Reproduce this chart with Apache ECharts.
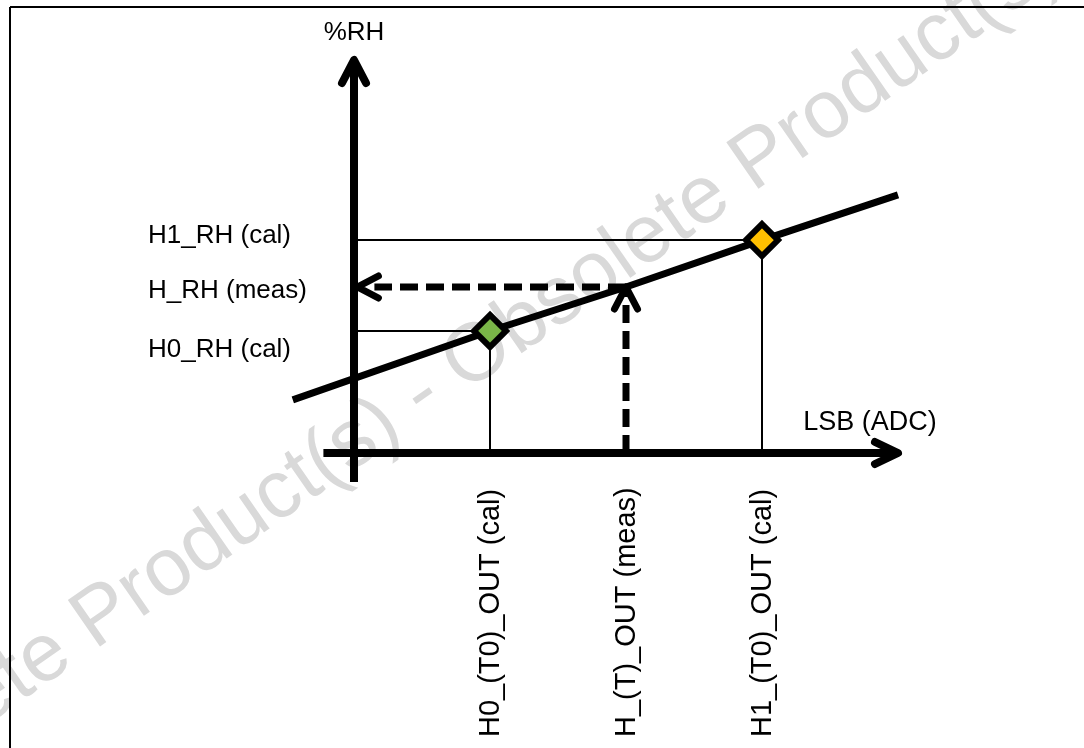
<!DOCTYPE html>
<html><head><meta charset="utf-8">
<script src="https://cdn.jsdelivr.net/npm/echarts@6/dist/echarts.min.js"></script>
<style>html,body{margin:0;padding:0;background:#fff}#c{width:1084px;height:748px}</style>
</head><body><div id="c"></div>
<script>
// ---- data (x in LSB units, y in %RH units) ----
const xTickValues = [4, 8, 12];
const xTickLabels = ['H0_(T0)_OUT (cal)', 'H_(T)_OUT (meas)', 'H1_(T0)_OUT (cal)'];
const yTickValues = [51.3, 40, 29.4];
const yTickLabels = ['H1_RH (cal)', 'H_RH (meas)', 'H0_RH (cal)'];
const calX = [4, 12];
const calY = [29.4, 51.3];
const lineX = [-1.8, 4, 8, 12, 16];
const lineY = [12.8, 29.4, 40, 51.3, 62.2];
const rhAxisX = [0, 0];
const rhAxisY = [-7, 94];
const lsbAxisX = [-0.9, 15.8];
const lsbAxisY = [0, 0];
const measX = 8;
const measY = 40;
const arrowTipX = [0, 16, 8, 0.1];
const arrowTipY = [94.7, 0, 40, 40];

// ---- styles / layout ----
const FONT = '"Liberation Sans", Arial, sans-serif';
const calColors = ['#7AB648', '#FFC000'];
const arrowDirs = [[0, -1], [1, 0], [0, -1], [-1, 0]];
const arrowGeom = [
  {depth: 23, spread: 12, w: 8},
  {depth: 23, spread: 11, w: 8},
  {depth: 22, spread: 11.5, w: 7},
  {depth: 21, spread: 11, w: 7}
];
const yLabelOffsets = [-4, 4, 19];

const zip = (a, b) => a.map((v, i) => [v, b[i]]);

const chart = echarts.init(document.getElementById('c'), null, {renderer: 'canvas'});

const lineSeries = (name, data, width, z, dash) => ({
  type: 'line', name, data, symbol: 'none', silent: true, z,
  animation: false,
  lineStyle: {color: '#000', width, type: dash || 'solid', cap: 'butt', join: 'miter'}
});

chart.setOption({
  animation: false,
  backgroundColor: '#fff',
  grid: {left: 14, top: 38, width: 1020, height: 498, containLabel: false},
  xAxis: {type: 'value', min: -10, max: 20, show: false},
  yAxis: {type: 'value', min: -20, max: 100, show: false},
  graphic: [
    {type: 'text', z: 0, x: 422, y: 395, rotation: 34.8 * Math.PI / 180,
     style: {text: 'Obsolete Product(s) - Obsolete Product(s)', font: '82px ' + FONT, fill: '#d9d9d9',
             align: 'center', verticalAlign: 'middle', textAlign: 'center', textVerticalAlign: 'middle'}},
    {type: 'line', z: 50, shape: {x1: 10, y1: 7, x2: 1084, y2: 7}, style: {stroke: '#000', lineWidth: 2}},
    {type: 'line', z: 50, shape: {x1: 10, y1: 7, x2: 10, y2: 748}, style: {stroke: '#000', lineWidth: 2}},
    {type: 'text', z: 50, x: 354, y: 33,
     style: {text: '%RH', font: '26px ' + FONT, fill: '#000', align: 'center', verticalAlign: 'middle', textAlign: 'center', textVerticalAlign: 'middle'}},
    {type: 'text', z: 50, x: 870, y: 423,
     style: {text: 'LSB (ADC)', font: '27px ' + FONT, fill: '#000', align: 'center', verticalAlign: 'middle', textAlign: 'center', textVerticalAlign: 'middle'}}
  ],
  series: [
    lineSeries('H1 guide', [[0, calY[1]], [calX[1], calY[1]], [calX[1], 0]], 2, 3),
    lineSeries('H0 guide', [[0, calY[0]], [calX[0], calY[0]], [calX[0], 0]], 2, 3),
    lineSeries('transfer', zip(lineX, lineY), 7, 5),
    lineSeries('rh axis', zip(rhAxisX, rhAxisY), 8, 6),
    lineSeries('lsb axis', zip(lsbAxisX, lsbAxisY), 8, 6),
    lineSeries('meas vertical', [[measX, 0], [measX, measY - 0.5]], 7, 7, [18, 8]),
    lineSeries('meas horizontal', [[measX, measY], [0.6, measY]], 7, 7, [18, 8]),
    {
      type: 'custom', name: 'arrow heads', coordinateSystem: 'cartesian2d', z: 8, silent: true, clip: false,
      data: zip(arrowTipX, arrowTipY),
      renderItem: (params, api) => {
        const i = params.dataIndex;
        const tip = api.coord([api.value(0), api.value(1)]);
        const d = arrowDirs[i], g = arrowGeom[i];
        const bx = tip[0] - d[0] * g.depth, by = tip[1] - d[1] * g.depth;
        const px = -d[1], py = d[0];
        return {
          type: 'polyline',
          shape: {points: [[bx + px * g.spread, by + py * g.spread], tip, [bx - px * g.spread, by - py * g.spread]]},
          style: {stroke: '#000', lineWidth: g.w, fill: null, lineCap: 'round', lineJoin: 'round'}
        };
      }
    },
    {
      type: 'custom', name: 'calibration', coordinateSystem: 'cartesian2d', z: 10, silent: true, clip: false,
      data: zip(calX, calY),
      renderItem: (params, api) => {
        const p = api.coord([api.value(0), api.value(1)]);
        const r = 16;
        return {
          type: 'polygon',
          shape: {points: [[p[0], p[1] - r], [p[0] + r, p[1]], [p[0], p[1] + r], [p[0] - r, p[1]]]},
          style: {fill: calColors[params.dataIndex], stroke: '#000', lineWidth: 6, lineJoin: 'miter'}
        };
      }
    },
    {
      type: 'custom', name: 'x labels', coordinateSystem: 'cartesian2d', z: 20, silent: true, clip: false,
      data: xTickValues.map(v => [v, 0]),
      renderItem: (params, api) => {
        const p = api.coord([api.value(0), 0]);
        return {
          type: 'text', x: p[0] + 1, y: 737, rotation: Math.PI / 2,
          style: {text: xTickLabels[params.dataIndex], x: 0, y: 0, font: '29px ' + FONT, fill: '#000',
                  align: 'left', verticalAlign: 'middle', textAlign: 'left', textVerticalAlign: 'middle'}
        };
      }
    },
    {
      type: 'custom', name: 'y labels', coordinateSystem: 'cartesian2d', z: 20, silent: true, clip: false,
      data: yTickValues.map(v => [0, v]),
      renderItem: (params, api) => {
        const p = api.coord([0, api.value(1)]);
        return {
          type: 'text', x: 148, y: p[1] + yLabelOffsets[params.dataIndex],
          style: {text: yTickLabels[params.dataIndex], x: 0, y: 0, font: '26px ' + FONT, fill: '#000',
                  align: 'left', verticalAlign: 'middle', textAlign: 'left', textVerticalAlign: 'middle'}
        };
      }
    }
  ]
});
</script>
</body></html>
